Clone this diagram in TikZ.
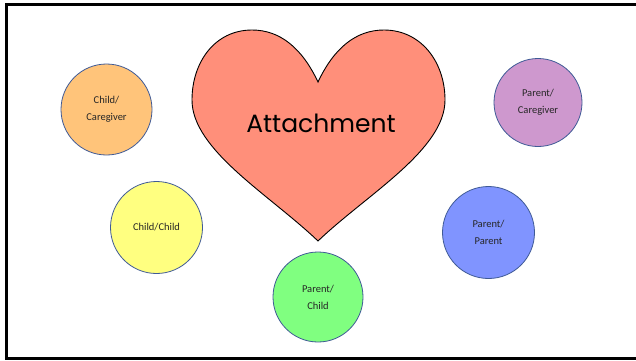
\documentclass[tikz,border=0pt]{standalone}
\usepackage{fontspec}
\setmainfont{Carlito}
\newfontfamily\headfont{Poppins}
\definecolor{cOrange}{HTML}{FFC47A}
\definecolor{cPurple}{HTML}{CE98CE}
\definecolor{cYellow}{HTML}{FFFF80}
\definecolor{cBlue}{HTML}{8094FF}
\definecolor{cGreen}{HTML}{80FF80}
\definecolor{cHeart}{HTML}{FF8F7A}
\definecolor{cEdge}{HTML}{3F5A96}
\definecolor{cText}{HTML}{262626}
\begin{document}
\begin{tikzpicture}[x=1pt,y=-1pt,
  bubble/.style={circle, draw=cEdge, line width=0.8pt, inner sep=0pt, text=cText,
    align=center, font=\fontsize{10.5}{17}\selectfont},
  frameline/.style={line width=3pt, black}]
\useasboundingbox (0,0) rectangle (636,360);
\fill[white] (0,0) rectangle (636,360);
% frame (left, top, bottom)
\draw[frameline] (636,4.5) -- (6,4.5) -- (6,358.5) -- (636,358.5);
% heart
\draw[fill=cHeart, line width=0.9pt]
  (318,82) .. controls (302,48) and (280,30) .. (252,30)
  .. controls (215,30) and (192,62) .. (192,100)
  .. controls (192,150) and (270,195) .. (318,241)
  .. controls (366,195) and (445,150) .. (445,100)
  .. controls (445,62) and (421,30) .. (384,30)
  .. controls (356,30) and (334,48) .. (318,82) -- cycle;
\node[font=\headfont\fontsize{25}{29}\selectfont] (att) at (321,123) {Attachment};
% bubbles
\node[bubble, fill=cOrange, minimum size=91pt] (cc) at (106.5,109.5) {Child/\\Caregiver};
\node[bubble, fill=cPurple, minimum size=88pt] (pc) at (538,102.5) {Parent/\\Caregiver};
\node[bubble, fill=cYellow, minimum size=92pt] (ch) at (156.5,227.5) {Child/Child};
\node[bubble, fill=cBlue, minimum size=92pt] (pp) at (488.5,232.5) {Parent/\\Parent};
\node[bubble, fill=cGreen, minimum size=90pt] (pk) at (318,297) {Parent/\\Child};
\end{tikzpicture}
\end{document}
